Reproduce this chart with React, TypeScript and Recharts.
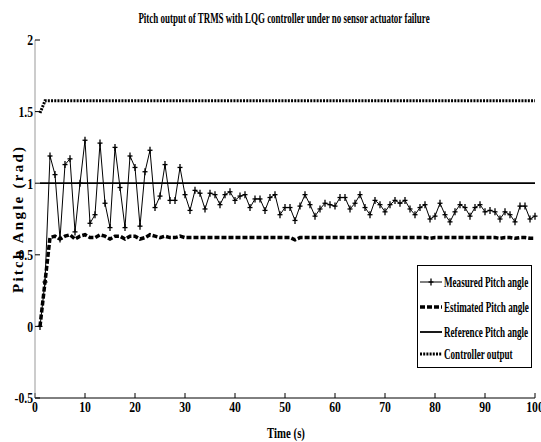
import React from 'react';
import { ComposedChart, Line, XAxis, YAxis, Legend } from 'recharts';

const timeS = [
  1, 2, 3, 4, 5, 6, 7, 8, 9, 10, 11, 12, 13, 14, 15, 16, 17, 18, 19, 20,
  21, 22, 23, 24, 25, 26, 27, 28, 29, 30, 31, 32, 33, 34, 35, 36, 37, 38, 39, 40,
  41, 42, 43, 44, 45, 46, 47, 48, 49, 50, 51, 52, 53, 54, 55, 56, 57, 58, 59, 60,
  61, 62, 63, 64, 65, 66, 67, 68, 69, 70, 71, 72, 73, 74, 75, 76, 77, 78, 79, 80,
  81, 82, 83, 84, 85, 86, 87, 88, 89, 90, 91, 92, 93, 94, 95, 96, 97, 98, 99, 100,
];

const measuredPitch = [
  0, 0.31, 1.19, 1.06, 0.61, 1.13, 1.17, 0.66, 1.0, 1.3,
  0.72, 0.78, 1.28, 0.86, 0.69, 1.25, 0.97, 0.69, 1.19, 1.11,
  0.7, 1.08, 1.23, 0.83, 0.91, 1.13, 0.88, 0.88, 1.11, 0.92,
  0.81, 0.95, 0.93, 0.82, 0.93, 0.92, 0.85, 0.92, 0.94, 0.88,
  0.91, 0.92, 0.83, 0.89, 0.89, 0.81, 0.9, 0.92, 0.78, 0.83,
  0.83, 0.74, 0.84, 0.92, 0.85, 0.77, 0.82, 0.86, 0.85, 0.84,
  0.9, 0.9, 0.82, 0.86, 0.92, 0.83, 0.78, 0.88, 0.85, 0.8,
  0.85, 0.88, 0.86, 0.88, 0.82, 0.78, 0.83, 0.85, 0.75, 0.77,
  0.86, 0.78, 0.73, 0.8, 0.85, 0.83, 0.77, 0.83, 0.85, 0.8,
  0.81, 0.8, 0.75, 0.8, 0.78, 0.73, 0.84, 0.84, 0.75, 0.77,
];

const estimatedPitch = [
  0, 0.31, 0.62, 0.63, 0.61, 0.63, 0.64, 0.61, 0.63, 0.64,
  0.62, 0.62, 0.64, 0.63, 0.61, 0.63, 0.63, 0.61, 0.63, 0.63,
  0.61, 0.62, 0.64, 0.63, 0.62, 0.63, 0.62, 0.62, 0.63, 0.62,
  0.62, 0.62, 0.62, 0.62, 0.62, 0.62, 0.62, 0.62, 0.62, 0.62,
  0.62, 0.62, 0.62, 0.62, 0.62, 0.62, 0.62, 0.62, 0.62, 0.62,
  0.62, 0.605, 0.62, 0.62, 0.62, 0.62, 0.62, 0.62, 0.62, 0.62,
  0.62, 0.62, 0.62, 0.62, 0.62, 0.62, 0.62, 0.62, 0.62, 0.62,
  0.62, 0.62, 0.62, 0.62, 0.62, 0.62, 0.62, 0.62, 0.615, 0.62,
  0.62, 0.62, 0.62, 0.62, 0.62, 0.62, 0.62, 0.62, 0.62, 0.62,
  0.62, 0.62, 0.615, 0.62, 0.62, 0.615, 0.62, 0.62, 0.615, 0.615,
];

const referencePitch = [
  1, 1, 1, 1, 1, 1, 1, 1, 1, 1, 1, 1, 1, 1, 1, 1, 1, 1, 1, 1,
  1, 1, 1, 1, 1, 1, 1, 1, 1, 1, 1, 1, 1, 1, 1, 1, 1, 1, 1, 1,
  1, 1, 1, 1, 1, 1, 1, 1, 1, 1, 1, 1, 1, 1, 1, 1, 1, 1, 1, 1,
  1, 1, 1, 1, 1, 1, 1, 1, 1, 1, 1, 1, 1, 1, 1, 1, 1, 1, 1, 1,
  1, 1, 1, 1, 1, 1, 1, 1, 1, 1, 1, 1, 1, 1, 1, 1, 1, 1, 1, 1,
];

const controllerOutput = [
  1.49, 1.575, 1.575, 1.575, 1.575, 1.575, 1.575, 1.575, 1.575, 1.575,
  1.575, 1.575, 1.575, 1.575, 1.575, 1.575, 1.575, 1.575, 1.575, 1.575,
  1.575, 1.575, 1.575, 1.575, 1.575, 1.575, 1.575, 1.575, 1.575, 1.575,
  1.575, 1.575, 1.575, 1.575, 1.575, 1.575, 1.575, 1.575, 1.575, 1.575,
  1.575, 1.575, 1.575, 1.575, 1.575, 1.575, 1.575, 1.575, 1.575, 1.575,
  1.575, 1.575, 1.575, 1.575, 1.575, 1.575, 1.575, 1.575, 1.575, 1.575,
  1.575, 1.575, 1.575, 1.575, 1.575, 1.575, 1.575, 1.575, 1.575, 1.575,
  1.575, 1.575, 1.575, 1.575, 1.575, 1.575, 1.575, 1.575, 1.575, 1.575,
  1.575, 1.575, 1.575, 1.575, 1.575, 1.575, 1.575, 1.575, 1.575, 1.575,
  1.575, 1.575, 1.575, 1.575, 1.575, 1.575, 1.575, 1.575, 1.575, 1.575,
];

const xTicks = [0, 10, 20, 30, 40, 50, 60, 70, 80, 90, 100];
const yTicks = [-0.5, 0, 0.5, 1, 1.5, 2];

const legendLabels = [
  'Measured Pitch angle',
  'Estimated Pitch angle',
  'Reference Pitch angle',
  'Controller output',
];

const titleText = 'Pitch output of TRMS with LQG controller under no sensor actuator failure';
const xLabelText = 'Time (s)';
const yLabelText = 'Pitch Angle (rad)';

const data = timeS.map((t, i) => ({
  t,
  measured: measuredPitch[i],
  estimated: estimatedPitch[i],
  reference: referencePitch[i],
  controller: controllerOutput[i],
}));

const FONT = '"Liberation Serif", "Times New Roman", serif';

const XTick = (props: any) => {
  const { x, y, payload } = props;
  return (
    <g transform={`translate(${x},${y}) scale(0.78,1)`}>
      <text x={0} y={0} dy="0.72em" textAnchor="middle" fontFamily={FONT} fontWeight="bold" fontSize={15} fill="#000">
        {payload.value}
      </text>
    </g>
  );
};

const YTick = (props: any) => {
  const { x, y, payload } = props;
  return (
    <g transform={`translate(${x},${y}) scale(0.78,1)`}>
      <text x={0} y={0} dy="0.36em" textAnchor="end" fontFamily={FONT} fontWeight="bold" fontSize={15} fill="#000">
        {payload.value}
      </text>
    </g>
  );
};

const EmptyTick = () => <g />;

const PlusDot = (props: any) => {
  const { cx, cy, index } = props;
  if (cx == null || cy == null) return <g key={`d-${index}`} />;
  return (
    <g key={`d-${index}`}>
      <line x1={cx} y1={cy - 3.5} x2={cx} y2={cy + 3.5} stroke="#000" strokeWidth={1.3} />
      <line x1={cx - 2.5} y1={cy} x2={cx + 2.5} y2={cy} stroke="#000" strokeWidth={1.3} />
    </g>
  );
};

const legendRows = [17, 42, 67, 89];

const LegendBox = () => (
  <svg width={116} height={104} style={{ display: 'block' }}>
    <rect x={0.5} y={0.5} width={114} height={102} fill="#fff" stroke="#000" strokeWidth={1} />
    <line x1={3} y1={legendRows[0]} x2={25} y2={legendRows[0]} stroke="#000" strokeWidth={1} />
    <line x1={14} y1={legendRows[0] - 3.5} x2={14} y2={legendRows[0] + 3.5} stroke="#000" strokeWidth={1.3} />
    <line x1={11.5} y1={legendRows[0]} x2={16.5} y2={legendRows[0]} stroke="#000" strokeWidth={1.3} />
    <line x1={3} y1={legendRows[1]} x2={25} y2={legendRows[1]} stroke="#000" strokeWidth={3.5} strokeDasharray="5 2" />
    <line x1={3} y1={legendRows[2]} x2={25} y2={legendRows[2]} stroke="#000" strokeWidth={1.8} />
    <line x1={3} y1={legendRows[3]} x2={25} y2={legendRows[3]} stroke="#000" strokeWidth={3} strokeDasharray="2 1.2" />
    {legendLabels.map((lab, i) => (
      <g key={lab} transform={`translate(27,${legendRows[i]}) scale(0.65,1)`}>
        <text x={0} y={0} dy="0.36em" fontFamily={FONT} fontWeight="bold" fontSize={14} fill="#000">
          {lab}
        </text>
      </g>
    ))}
  </svg>
);

export default function App() {
  return (
    <div style={{ position: 'absolute', left: 0, top: 0, width: 541, height: 442, background: '#fff' }}>
      <ComposedChart
        width={541}
        height={442}
        data={data}
        margin={{ top: 40, right: 6, bottom: 0, left: 0 }}
      >
        <g transform="translate(284,23) scale(0.64,1)">
          <text x={0} y={0} textAnchor="middle" fontFamily={FONT} fontWeight="bold" fontSize={14} fill="#000">
            {titleText}
          </text>
        </g>
        <g transform="translate(286,438) scale(0.72,1)">
          <text x={0} y={0} textAnchor="middle" fontFamily={FONT} fontWeight="bold" fontSize={15} fill="#000">
            {xLabelText}
          </text>
        </g>
        <text
          x={0}
          y={0}
          transform="translate(23,220) rotate(-90)"
          textAnchor="middle"
          fontFamily={FONT}
          fontWeight="bold"
          fontSize={15}
          textLength={146}
          lengthAdjust="spacing"
          fill="#000"
        >
          {yLabelText}
        </text>
        <XAxis
          xAxisId="bottom"
          dataKey="t"
          type="number"
          domain={[0, 100]}
          ticks={xTicks}
          interval={0}
          height={44}
          tickSize={-5}
          tickMargin={8}
          tick={XTick}
          axisLine={{ stroke: '#000', strokeWidth: 1 }}
          tickLine={{ stroke: '#000', strokeWidth: 1 }}
        />
        <XAxis
          xAxisId="top"
          orientation="top"
          dataKey="t"
          type="number"
          domain={[0, 100]}
          ticks={xTicks}
          interval={0}
          height={0}
          tickSize={-5}
          tick={EmptyTick}
          axisLine={{ stroke: '#000', strokeWidth: 1 }}
          tickLine={{ stroke: '#000', strokeWidth: 1 }}
        />
        <YAxis
          yAxisId="left"
          type="number"
          domain={[-0.5, 2]}
          ticks={yTicks}
          interval={0}
          width={35}
          tickSize={-5}
          tickMargin={7}
          tick={YTick}
          axisLine={{ stroke: '#999', strokeWidth: 1 }}
          tickLine={{ stroke: '#000', strokeWidth: 1 }}
        />
        <YAxis
          yAxisId="right"
          orientation="right"
          type="number"
          domain={[-0.5, 2]}
          ticks={yTicks}
          interval={0}
          width={0}
          tickSize={-5}
          tick={EmptyTick}
          axisLine={{ stroke: '#999', strokeWidth: 1 }}
          tickLine={{ stroke: '#000', strokeWidth: 1 }}
        />
        <Legend
          layout="horizontal"
          verticalAlign="middle"
          align="center"
          content={() => <LegendBox />}
          wrapperStyle={{ position: 'absolute', left: 417, top: 265, width: 116, height: 104 }}
        />
        <Line
          xAxisId="bottom"
          yAxisId="left"
          dataKey="controller"
          name={legendLabels[3]}
          stroke="#000"
          strokeWidth={3}
          strokeDasharray="2 1.2"
          dot={false}
          isAnimationActive={false}
        />
        <Line
          xAxisId="bottom"
          yAxisId="left"
          dataKey="reference"
          name={legendLabels[2]}
          stroke="#000"
          strokeWidth={1.8}
          dot={false}
          isAnimationActive={false}
        />
        <Line
          xAxisId="bottom"
          yAxisId="left"
          dataKey="estimated"
          name={legendLabels[1]}
          stroke="#000"
          strokeWidth={3.5}
          strokeDasharray="5 2"
          dot={false}
          isAnimationActive={false}
        />
        <Line
          xAxisId="bottom"
          yAxisId="left"
          dataKey="measured"
          name={legendLabels[0]}
          stroke="#000"
          strokeWidth={1}
          dot={PlusDot}
          isAnimationActive={false}
        />
      </ComposedChart>
    </div>
  );
}
